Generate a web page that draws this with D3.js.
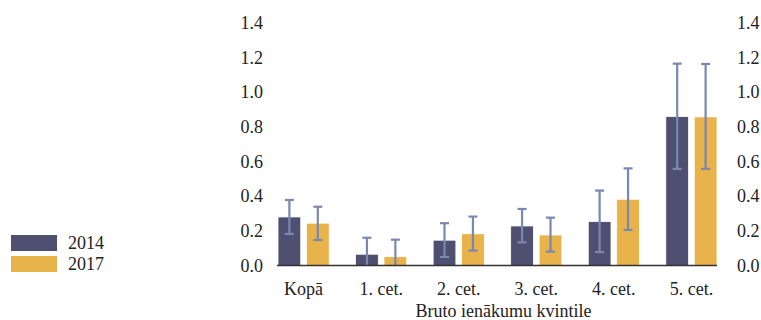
<!DOCTYPE html>
<html>
<head>
<meta charset="utf-8">
<script src="https://cdn.jsdelivr.net/npm/d3@7"></script>
<style>
  html, body { margin: 0; padding: 0; background: #fff; }
  svg text { font-family: "Liberation Serif", "Times New Roman", serif; fill: #222; font-size: 18px; }
</style>
</head>
<body>
<svg id="chart" width="761" height="320"></svg>
<script>
// Categories (income quintiles) and series
const categories = ["Kopā", "1. cet.", "2. cet.", "3. cet.", "4. cet.", "5. cet."];
const seriesNames = ["2014", "2017"];
const values2014 = [0.280, 0.065, 0.146, 0.228, 0.253, 0.859];
const values2017 = [0.244, 0.051, 0.183, 0.176, 0.382, 0.857];
const low2014  = [0.182, -0.03, 0.049, 0.133, 0.077, 0.557];
const high2014 = [0.378, 0.160, 0.244, 0.326, 0.432, 1.164];
const low2017  = [0.147, -0.03, 0.086, 0.080, 0.205, 0.557];
const high2017 = [0.339, 0.149, 0.282, 0.276, 0.560, 1.162];
const yTicks = [0, 0.2, 0.4, 0.6, 0.8, 1.0, 1.2, 1.4];
const axisTitle = "Bruto ienākumu kvintile";

const colors = { "2014": "#4f4f72", "2017": "#e8b34a" };
const errColor = "#7a88b0";

const series = [
  { name: "2014", values: values2014, low: low2014, high: high2014 },
  { name: "2017", values: values2017, low: low2017, high: high2017 }
];

const svg = d3.select("#chart");
const plotLeft = 278, plotRight = 717, plotTop = 22.7, plotBottom = 265.5;

const x0 = d3.scaleBand().domain(categories).range([plotLeft, plotRight])
  .paddingInner(0.34).paddingOuter(0);
const x1 = d3.scaleBand().domain(seriesNames).range([0, x0.bandwidth()])
  .paddingInner(0.2);
const y = d3.scaleLinear().domain([0, 1.4]).range([plotBottom, plotTop]);

svg.append("defs").append("clipPath").attr("id", "plotClip")
  .append("rect").attr("x", plotLeft - 10).attr("y", 0)
  .attr("width", plotRight - plotLeft + 20).attr("height", plotBottom);

// Left and right value axes (labels only)
const fmt = d3.format(".1f");
const leftAxis = d3.axisLeft(y).tickValues(yTicks).tickFormat(fmt).tickSize(0).tickPadding(0);
const rightAxis = d3.axisRight(y).tickValues(yTicks).tickFormat(fmt).tickSize(0).tickPadding(0);
const gl = svg.append("g").attr("transform", "translate(263,0)").call(leftAxis);
const gr = svg.append("g").attr("transform", "translate(737,0)").call(rightAxis);
[gl, gr].forEach(g => {
  g.attr("font-family", null).attr("font-size", null);
  g.select(".domain").remove();
  g.selectAll("text").attr("fill", "#222");
});

// Bars
const groups = svg.append("g").selectAll("g").data(series).join("g")
  .attr("fill", d => colors[d.name]);
groups.selectAll("rect").data(d => d.values.map((v, i) => ({ v, i, name: d.name })))
  .join("rect")
  .attr("x", d => x0(categories[d.i]) + x1(d.name))
  .attr("width", x1.bandwidth())
  .attr("y", d => y(d.v))
  .attr("height", d => y(0) - y(d.v))
  .attr("stroke", "#fff").attr("stroke-width", 0.8);

// Error bars
const capW = 9;
const eg = svg.append("g").attr("clip-path", "url(#plotClip)")
  .attr("stroke", errColor).attr("stroke-width", 2.2).attr("fill", "none");
series.forEach(s => {
  s.values.forEach((v, i) => {
    const cx = x0(categories[i]) + x1(s.name) + x1.bandwidth() / 2;
    const g = eg.append("g");
    g.append("line").attr("x1", cx).attr("x2", cx).attr("y1", y(s.low[i])).attr("y2", y(s.high[i]));
    g.append("line").attr("x1", cx - capW / 2).attr("x2", cx + capW / 2).attr("y1", y(s.high[i])).attr("y2", y(s.high[i]));
    g.append("line").attr("x1", cx - capW / 2).attr("x2", cx + capW / 2).attr("y1", y(s.low[i])).attr("y2", y(s.low[i]));
  });
});

// Category axis
const xAxis = d3.axisBottom(x0).tickSize(0).tickPadding(16.5);
const gx = svg.append("g").attr("transform", `translate(0,${plotBottom})`).call(xAxis);
gx.attr("font-family", null).attr("font-size", null);
gx.select(".domain").attr("stroke", "#333").attr("stroke-width", 1.5)
  .attr("d", `M${plotLeft - 1},0H${plotRight}`);
gx.selectAll("text").attr("fill", "#222");

svg.append("text").attr("x", (plotLeft + plotRight) / 2 + 6).attr("y", 316.5)
  .attr("text-anchor", "middle").text(axisTitle);

// Legend
const legend = svg.append("g").selectAll("g").data(seriesNames).join("g")
  .attr("transform", (d, i) => `translate(11,${235 + i * 21})`);
legend.append("rect").attr("width", 46).attr("height", 16).attr("fill", d => colors[d]);
legend.append("text").attr("x", 57).attr("y", 13.5).text(d => d);
</script>
</body>
</html>
